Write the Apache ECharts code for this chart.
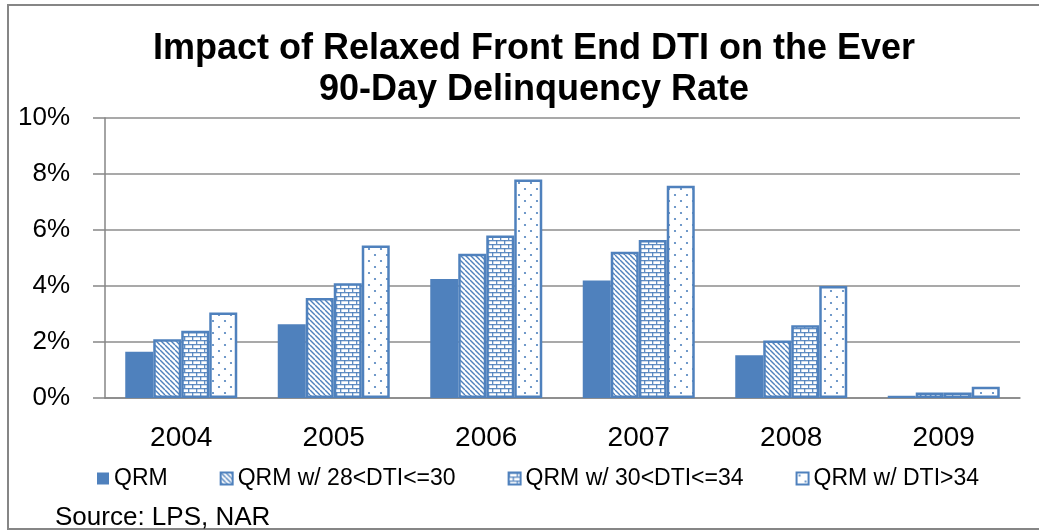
<!DOCTYPE html>
<html><head><meta charset="utf-8">
<script src="https://cdn.jsdelivr.net/npm/echarts@6/dist/echarts.min.js"></script>
<style>html,body{margin:0;padding:0;background:#fff}#c{width:1039px;height:531px}</style>
</head><body><div id="c"></div>
<script>
const categories = ['2004','2005','2006','2007','2008','2009'];
const seriesNames = ['QRM','QRM w/ 28<DTI<=30','QRM w/ 30<DTI<=34','QRM w/ DTI>34'];
const qrm      = [1.65, 2.63, 4.25, 4.20, 1.53, 0.08];
const dti28_30 = [2.10, 3.57, 5.15, 5.22, 2.05, 0.20];
const dti30_34 = [2.40, 4.10, 5.80, 5.64, 2.60, 0.20];
const dtiGt34  = [3.05, 5.45, 7.80, 7.58, 4.00, 0.40];
const yTicks = [0, 2, 4, 6, 8, 10];

const BLUE = '#4F81BD';
function tile(w, h, draw) {
  const c = document.createElement('canvas'); c.width = w; c.height = h;
  const g = c.getContext('2d'); g.fillStyle = '#fff'; g.fillRect(0, 0, w, h);
  g.fillStyle = BLUE; g.strokeStyle = BLUE; draw(g); return c;
}
const diag = tile(5, 5, g => { g.lineWidth = 1.4; [-5, 0, 5].forEach(k => { g.beginPath(); g.moveTo(k, 0); g.lineTo(k + 5, 5); g.stroke(); }); });
const brick = tile(8, 8, g => { g.globalAlpha = 0.9; g.fillRect(0, 0, 8, 1.3); g.fillRect(0, 4, 8, 1.3); g.fillRect(0, 0, 1.3, 4); g.fillRect(4, 4, 1.3, 4); });
const dots = tile(12, 12, g => { [[3, 3], [9, 9]].forEach(p => { g.beginPath(); g.arc(p[0], p[1], 1.1, 0, Math.PI * 2); g.fill(); }); });

const FONT = 'Liberation Sans';
const styles = [
  { color: BLUE },
  { color: { image: diag, repeat: 'repeat' }, borderColor: BLUE, borderWidth: 2.5 },
  { color: { image: brick, repeat: 'repeat' }, borderColor: BLUE, borderWidth: 2.5 },
  { color: { image: dots, repeat: 'repeat' }, borderColor: BLUE, borderWidth: 2.5 }
];
const dataSets = [qrm, dti28_30, dti30_34, dtiGt34];

const chart = echarts.init(document.getElementById('c'), null, { renderer: 'canvas' });
chart.setOption({
  animation: false,
  backgroundColor: '#fff',
  textStyle: { fontFamily: FONT },
  title: {
    text: 'Impact of Relaxed Front End DTI on the Ever\n90-Day Delinquency Rate',
    left: 529, textAlign: 'center', top: 24,
    textStyle: { fontFamily: FONT, fontWeight: 'bold', fontSize: 36, lineHeight: 41, color: '#000' }
  },
  grid: { left: 105, right: 19, top: 118, bottom: 133, containLabel: false },
  legend: {
    data: seriesNames, left: 92, top: 462, itemWidth: 12, itemHeight: 12, itemGap: 52,
    icon: 'rect',
    textStyle: { fontFamily: FONT, fontSize: 23, color: '#000' }
  },
  xAxis: {
    type: 'category', data: categories,
    axisLine: { lineStyle: { color: '#868686', width: 1.5 } },
    axisTick: { length: 10, lineStyle: { color: '#868686', width: 1.5 } },
    axisLabel: { fontFamily: FONT, fontSize: 28, color: '#000', margin: 26 }
  },
  yAxis: {
    type: 'value', min: 0, max: 10, interval: 2,
    axisLine: { show: true, lineStyle: { color: '#868686', width: 1.5 } },
    axisTick: { show: true, length: 12, lineStyle: { color: '#868686', width: 1.5 } },
    splitLine: { lineStyle: { color: '#8c8c8c', width: 1.5 } },
    axisLabel: { fontFamily: FONT, fontSize: 26, color: '#000', margin: 35,
      formatter: v => yTicks.includes(v) ? v + '%' : '' }
  },
  series: seriesNames.map((n, i) => ({
    name: n, type: 'bar', data: dataSets[i], barWidth: 28, barGap: '0%',
    itemStyle: styles[i]
  })),
  graphic: [
    { type: 'rect', shape: { x: 8, y: 5, width: 1100, height: 524 }, style: { fill: null, stroke: '#868686', lineWidth: 2 }, silent: true },
    { type: 'text', left: 55, top: 505, style: { text: 'Source: LPS, NAR', font: '26px "Liberation Sans"', fill: '#000' } }
  ]
});
</script></body></html>
